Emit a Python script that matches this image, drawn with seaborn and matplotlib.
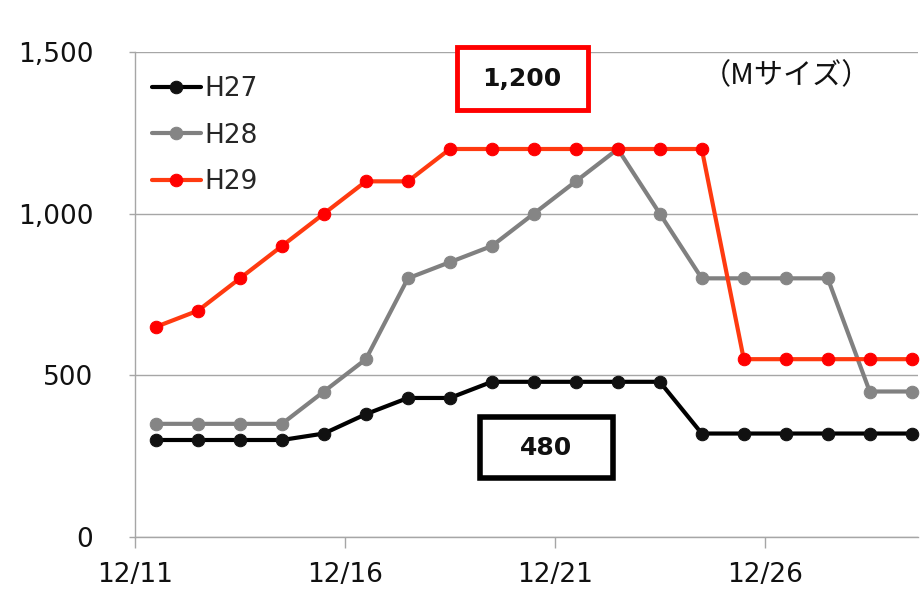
import numpy as np
import matplotlib
matplotlib.use('Agg')
import matplotlib.pyplot as plt
from matplotlib.patches import Rectangle
import seaborn as sns
import pandas as pd

# data (12/11 .. 12/29, M size)
dates = ['12/%d' % d for d in range(11, 30)]
h27 = [300, 300, 300, 300, 320, 380, 430, 430, 480, 480,
       480, 480, 480, 320, 320, 320, 320, 320, 320]
h28 = [350, 350, 350, 350, 450, 550, 800, 850, 900, 1000,
       1100, 1200, 1000, 800, 800, 800, 800, 450, 450]
h29 = [650, 700, 800, 900, 1000, 1100, 1100, 1200, 1200, 1200,
       1200, 1200, 1200, 1200, 550, 550, 550, 550, 550]
series = ['H27', 'H28', 'H29']
line_colors = ['#000000', '#808080', '#ff3a10']
marker_colors = ['#111111', '#858585', '#ff0000']
tick_dates = ['12/11', '12/16', '12/21', '12/26']

df = pd.DataFrame({'day': np.arange(len(dates)), 'H27': h27, 'H28': h28, 'H29': h29})

sns.set_style('white')
plt.rcParams['font.family'] = ['DejaVu Sans', 'Noto Sans CJK JP']

W, H = 922, 592
fig = plt.figure(figsize=(W/100, H/100), dpi=100)
ax = fig.add_axes([135/W, 1-537/H, 783/W, 485/H])

for name, lc, mc in zip(series, line_colors, marker_colors):
    sns.lineplot(data=df, x='day', y=name, ax=ax, color=lc, label=name,
                 linewidth=3, marker='o', markersize=9,
                 markerfacecolor=mc, markeredgecolor=mc, clip_on=False, zorder=3)

ax.set_xlim(-0.5, 18.15)
ax.set_ylim(0, 1500)
ax.set_xlabel('')
ax.set_ylabel('')

ax.set_yticks([0, 500, 1000, 1500])
ax.set_yticklabels(['0', '500', '1,000', '1,500'])
ax.yaxis.grid(True, color='#a6a6a6', linewidth=1)
ax.set_xticks([dates.index(t) - 0.5 for t in tick_dates])
ax.set_xticklabels(tick_dates)

ax.tick_params(axis='y', left=True, length=4, width=1, color='#a6a6a6', pad=26, labelsize=19, labelcolor='#111111')
ax.tick_params(axis='x', bottom=True, length=8, width=1, color='#a6a6a6', pad=10, labelsize=19, labelcolor='#111111')

for s in ['top', 'right']:
    ax.spines[s].set_visible(False)
for s in ['left', 'bottom']:
    ax.spines[s].set_color('#a6a6a6')
    ax.spines[s].set_linewidth(1)

ax.legend(loc='upper left', bbox_to_anchor=(152/W, 1-76/H), bbox_transform=fig.transFigure,
          frameon=False, fontsize=19, handlelength=1.85, handletextpad=0.15,
          labelspacing=0.78, borderpad=0, borderaxespad=0)

# annotation boxes (pixel positions in the figure)
def box(x0, y0, x1, y1, ec, lw):
    fig.patches.append(Rectangle((x0/W, 1-y1/H), (x1-x0)/W, (y1-y0)/H, transform=fig.transFigure,
                                 fc='white', ec=ec, lw=lw, zorder=5))

box(457, 47, 588, 110, '#ff0000', 3.5)
box(480, 417, 613, 478, '#000000', 4)
fig.text(522/W, 1-79/H, '1,200', ha='center', va='center', fontsize=18, fontweight='bold',
         color='#111111', zorder=6)
fig.text(546/W, 1-448/H, '480', ha='center', va='center', fontsize=18, fontweight='bold',
         color='#111111', zorder=6)
fig.text(786/W, 1-76/H, '（Mサイズ）', ha='center', va='center', fontsize=21,
         family=['Noto Sans CJK JP', 'DejaVu Sans'], color='#111111')

fig.savefig('out.png', dpi=100)
